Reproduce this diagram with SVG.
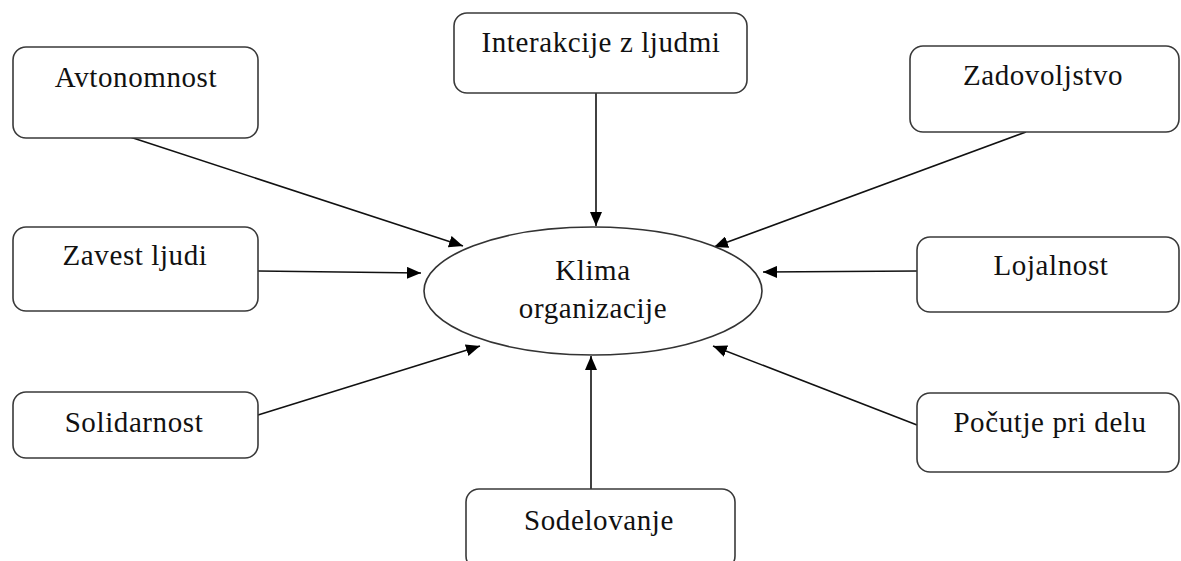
<svg xmlns="http://www.w3.org/2000/svg" width="1181" height="561" viewBox="0 0 1181 561">
<style>
.box{fill:#fff;stroke:#3a3a3a;stroke-width:1.6}
.t{font-family:"Liberation Serif","Times New Roman",serif;font-size:29px;letter-spacing:0.6px;fill:#111;text-anchor:middle}
.c{stroke:#111;stroke-width:1.6;fill:none;marker-end:url(#ah)}
</style>
<defs>
<marker id="ah" viewBox="0 0 14 12" refX="14" refY="6" markerWidth="14" markerHeight="12" markerUnits="userSpaceOnUse" orient="auto">
<path d="M0,0 L14,6 L0,12 z" fill="#000"/>
</marker>
</defs>
<rect width="1181" height="561" fill="#fff"/>
<g id="connectors">
<line class="c" x1="130" y1="137" x2="463" y2="246"/>
<line class="c" x1="596" y1="93" x2="596" y2="226"/>
<line class="c" x1="1026" y1="132" x2="714" y2="247"/>
<line class="c" x1="258" y1="271" x2="421" y2="273"/>
<line class="c" x1="918" y1="271" x2="763" y2="272"/>
<line class="c" x1="258" y1="415" x2="480" y2="346"/>
<line class="c" x1="591" y1="489" x2="591" y2="356"/>
<line class="c" x1="917" y1="425" x2="713" y2="346"/>
</g>
<g id="center">
<ellipse cx="593" cy="291" rx="169" ry="64" fill="#fff" stroke="#333" stroke-width="1.6"/>
<text class="t" x="593" y="280">Klima</text>
<text class="t" x="593" y="318">organizacije</text>
</g>
<g id="avtonomnost">
<rect class="box" x="13" y="47" width="245" height="91" rx="13"/>
<text class="t" x="136" y="87">Avtonomnost</text>
</g>
<g id="interakcije">
<rect class="box" x="454" y="13" width="293" height="80" rx="13"/>
<text class="t" x="601" y="52">Interakcije z ljudmi</text>
</g>
<g id="zadovoljstvo">
<rect class="box" x="910" y="46" width="269" height="86" rx="13"/>
<text class="t" x="1043" y="85">Zadovoljstvo</text>
</g>
<g id="zavest">
<rect class="box" x="13" y="227" width="245" height="84" rx="13"/>
<text class="t" x="135" y="265">Zavest ljudi</text>
</g>
<g id="lojalnost">
<rect class="box" x="917" y="237" width="262" height="75" rx="13"/>
<text class="t" x="1051" y="275">Lojalnost</text>
</g>
<g id="solidarnost">
<rect class="box" x="13" y="392" width="245" height="66" rx="13"/>
<text class="t" x="134" y="432">Solidarnost</text>
</g>
<g id="pocutje">
<rect class="box" x="917" y="393" width="262" height="79" rx="13"/>
<text class="t" x="1050" y="432">Počutje pri delu</text>
</g>
<g id="sodelovanje">
<rect class="box" x="466" y="489" width="269" height="80" rx="13"/>
<text class="t" x="599" y="530">Sodelovanje</text>
</g>
</svg>
